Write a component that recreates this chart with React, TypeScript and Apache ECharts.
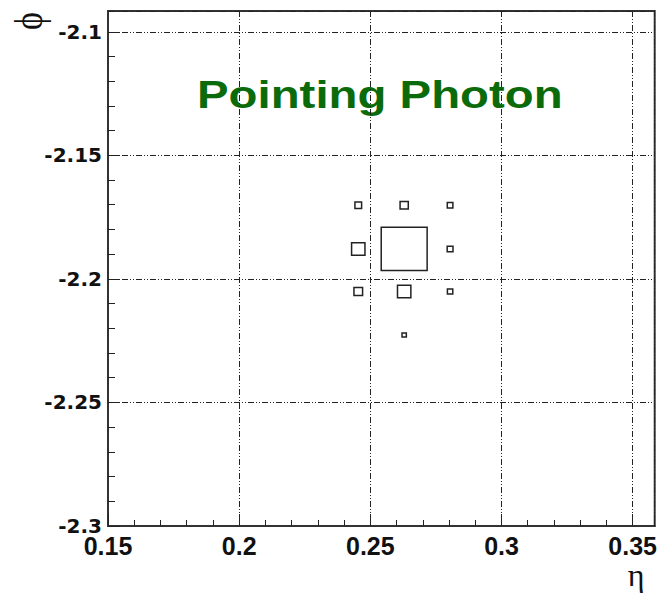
import React, { useEffect, useRef } from "react";
import * as echarts from "echarts";

// Calorimeter cells: eta centre, phi centre, deposited energy (arb. units)
const cellEta = [0.2454, 0.2629, 0.2804, 0.2454, 0.2629, 0.2804, 0.2454, 0.2629, 0.2804, 0.2629];
const cellPhi = [-2.1702, -2.1702, -2.1702, -2.1879, -2.1879, -2.1879, -2.2051, -2.2051, -2.2051, -2.2227];
const cellEnergy = [3.1, 3.8, 2.6, 6.2, 21.3, 2.7, 4.0, 6.2, 2.5, 2.0];

const cellSizeEta = 0.0175;
const cellSizePhi = 0.0175;

const etaRange = [0.15, 0.3584];
const phiRange = [-2.3, -2.0916];
const majorStep = 0.05;
const minorStep = 0.01;

const titleText = "Pointing Photon";
const xTitle = "η";
const yTitle = "ϕ";

export default function App() {
  const ref = useRef<HTMLDivElement>(null);

  useEffect(() => {
    if (!ref.current) return;
    const chart = echarts.init(ref.current, null, { renderer: "svg" });
    const maxE = Math.max(...cellEnergy);
    const data = cellEta.map((e, i) => [e, cellPhi[i], cellEnergy[i]]);
    const fmt = (v: number) => String(Number(v.toFixed(3)));
    const gridLine = {
      show: true,
      lineStyle: { color: "#222", width: 1, type: [6, 2, 1, 2, 1, 2] as any },
    };

    chart.setOption({
      animation: false,
      backgroundColor: "#fff",
      grid: {
        left: 108,
        right: 3,
        top: 11,
        bottom: 67,
        show: true,
        borderColor: "#333",
        borderWidth: 2,
        backgroundColor: "transparent",
      },
      xAxis: [
        {
          type: "value",
          min: etaRange[0],
          max: etaRange[1],
          interval: majorStep,
          position: "bottom",
          axisLine: { show: true, onZero: false, lineStyle: { color: "#333", width: 2 } },
          axisTick: { show: true, inside: true, length: 12, lineStyle: { color: "#222", width: 1 } },
          axisLabel: {
            show: true,
            margin: 7,
            showMaxLabel: false,
            formatter: fmt,
            color: "#111",
            fontFamily: '"Liberation Sans", Arial, sans-serif',
            fontWeight: "bold",
            fontSize: 25,
          },
          splitLine: gridLine,
        },
        {
          type: "value",
          min: etaRange[0],
          max: etaRange[1],
          interval: minorStep,
          position: "bottom",
          axisLine: { show: false, onZero: false },
          axisTick: { show: true, inside: true, length: 6, lineStyle: { color: "#222", width: 1 } },
          axisLabel: { show: false },
          splitLine: { show: false },
        },
      ],
      yAxis: [
        {
          type: "value",
          min: phiRange[0],
          max: phiRange[1],
          interval: majorStep,
          position: "left",
          axisLine: { show: true, onZero: false, lineStyle: { color: "#333", width: 2 } },
          axisTick: { show: true, inside: true, length: 12, lineStyle: { color: "#222", width: 1 } },
          axisLabel: {
            show: true,
            margin: 6,
            showMaxLabel: false,
            formatter: fmt,
            color: "#111",
            fontFamily: '"DejaVu Sans", sans-serif',
            fontWeight: "bold",
            fontSize: 20,
          },
          splitLine: gridLine,
        },
        {
          type: "value",
          min: phiRange[0],
          max: phiRange[1],
          interval: minorStep,
          position: "left",
          axisLine: { show: false, onZero: false },
          axisTick: { show: true, inside: true, length: 7, lineStyle: { color: "#222", width: 1 } },
          axisLabel: { show: false },
          splitLine: { show: false },
        },
      ],
      series: [
        {
          type: "custom",
          xAxisIndex: 0,
          yAxisIndex: 0,
          data,
          renderItem: (_params: any, api: any) => {
            const c = api.coord([api.value(0), api.value(1)]);
            const s = api.size([cellSizeEta, cellSizePhi]);
            const r = api.value(2) / maxE;
            const w = s[0] * r;
            const h = s[1] * r;
            return {
              type: "rect",
              shape: { x: c[0] - w / 2, y: c[1] - h / 2, width: w, height: h },
              style: { fill: "none", stroke: "#222", lineWidth: 1.5 },
            };
          },
        },
      ],
      graphic: [
        {
          type: "text",
          x: 197,
          y: 94.5,
          scaleX: 1.215,
          style: {
            text: titleText,
            font: 'bold 39px "Liberation Sans", Arial, sans-serif',
            fill: "#0b6b0b",
            align: "left",
            verticalAlign: "middle",
          },
        },
        {
          type: "text",
          x: 636,
          y: 575,
          style: {
            text: xTitle,
            font: '32px "Liberation Serif", "DejaVu Serif", serif',
            fill: "#111",
            align: "center",
            verticalAlign: "middle",
          },
        },
        {
          type: "text",
          x: 29,
          y: 21,
          rotation: Math.PI / 2,
          scaleY: 1.15,
          style: {
            text: yTitle,
            font: '34px "Liberation Serif", "DejaVu Serif", serif',
            fill: "#111",
            align: "center",
            verticalAlign: "middle",
          },
        },
      ],
    });

    return () => chart.dispose();
  }, []);

  return (
    <div
      ref={ref}
      style={{ position: "fixed", left: 0, top: 0, width: 660, height: 593 }}
    />
  );
}
